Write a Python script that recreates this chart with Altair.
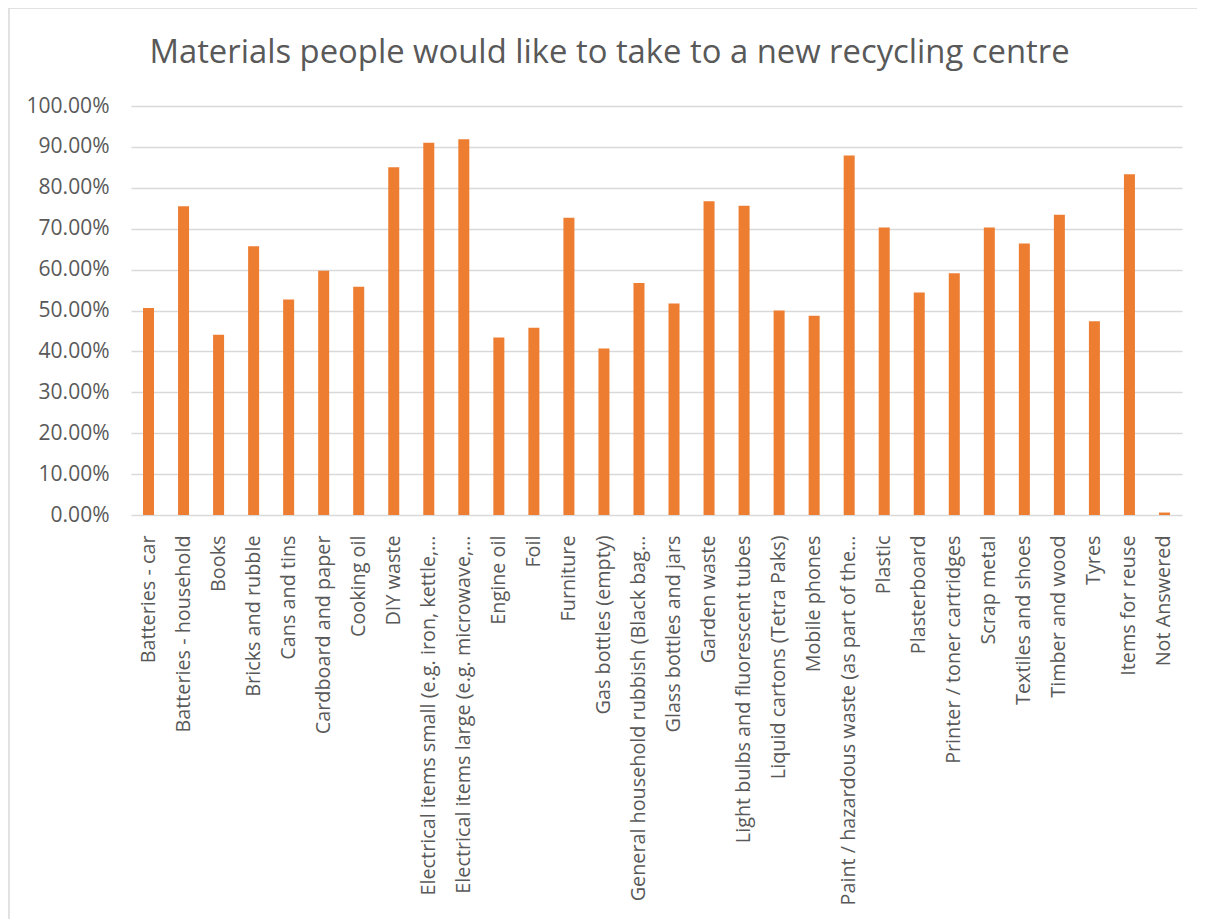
import altair as alt
import pandas as pd

categories = [
    "Batteries - car",
    "Batteries - household",
    "Books",
    "Bricks and rubble",
    "Cans and tins",
    "Cardboard and paper",
    "Cooking oil",
    "DIY waste",
    "Electrical items small (e.g. iron, kettle,…",
    "Electrical items large (e.g. microwave,…",
    "Engine oil",
    "Foil",
    "Furniture",
    "Gas bottles (empty)",
    "General household rubbish (Black bag…",
    "Glass bottles and jars",
    "Garden waste",
    "Light bulbs and fluorescent tubes",
    "Liquid cartons (Tetra Paks)",
    "Mobile phones",
    "Paint / hazardous waste  (as part of the…",
    "Plastic",
    "Plasterboard",
    "Printer / toner cartridges",
    "Scrap metal",
    "Textiles and shoes",
    "Timber and wood",
    "Tyres",
    "Items for reuse",
    "Not Answered",
]
values = [
    0.506, 0.755, 0.441, 0.657, 0.527, 0.597, 0.558, 0.850, 0.910, 0.919,
    0.434, 0.458, 0.727, 0.407, 0.567, 0.517, 0.767, 0.756, 0.500, 0.487,
    0.879, 0.703, 0.544, 0.591, 0.703, 0.664, 0.734, 0.474, 0.833, 0.006,
]
y_ticks = [0, 0.1, 0.2, 0.3, 0.4, 0.5, 0.6, 0.7, 0.8, 0.9, 1.0]

df = pd.DataFrame({"category": categories, "value": values})

TEXT = "#595959"
FONT = "Open Sans"

bars = alt.Chart(df).mark_bar(color="#ED7D31", size=11).encode(
    x=alt.X(
        "category:N",
        sort=categories,
        title=None,
        scale=alt.Scale(paddingInner=0.0, paddingOuter=0.0),
        axis=alt.Axis(
            labelAngle=-90,
            labelAlign="right",
            labelBaseline="middle",
            labelFont=FONT,
            labelFontSize=19.8,
            labelColor=TEXT,
            labelPadding=20,
            labelLimit=400,
            ticks=False,
            domain=False,
            grid=False,
        ),
    ),
    y=alt.Y(
        "value:Q",
        title=None,
        scale=alt.Scale(domain=[0, 1], nice=False),
        axis=alt.Axis(
            values=y_ticks,
            format=".2%",
            labelFont=FONT,
            labelFontSize=21,
            labelColor=TEXT,
            labelPadding=22,
            ticks=False,
            domain=False,
            grid=True,
            gridColor="#D9D9D9",
            gridWidth=1.3,
        ),
    ),
)

border = alt.Chart(pd.DataFrame({"a": [0]})).mark_rect(
    fill=None, stroke="#D9D9D9", strokeWidth=1.5
).encode(
    x=alt.value(-122),
    x2=alt.value(1200),
    y=alt.value(-98),
    y2=alt.value(900),
)

chart = alt.layer(border, bars).properties(
    width=1051,
    height=409,
    title=alt.TitleParams(
        "Materials people would like to take to a new recycling centre",
        font=FONT,
        fontSize=32.8,
        fontWeight="normal",
        color=TEXT,
        anchor="middle",
        dx=-47,
        offset=0,
        dy=63,
    ),
    autosize=alt.AutoSizeParams(type="none"),
    padding={"left": 123, "top": 98, "right": 15, "bottom": 404},
).configure_view(stroke=None)

chart.save("out.html", embed_options={"renderer": "svg", "actions": False})
